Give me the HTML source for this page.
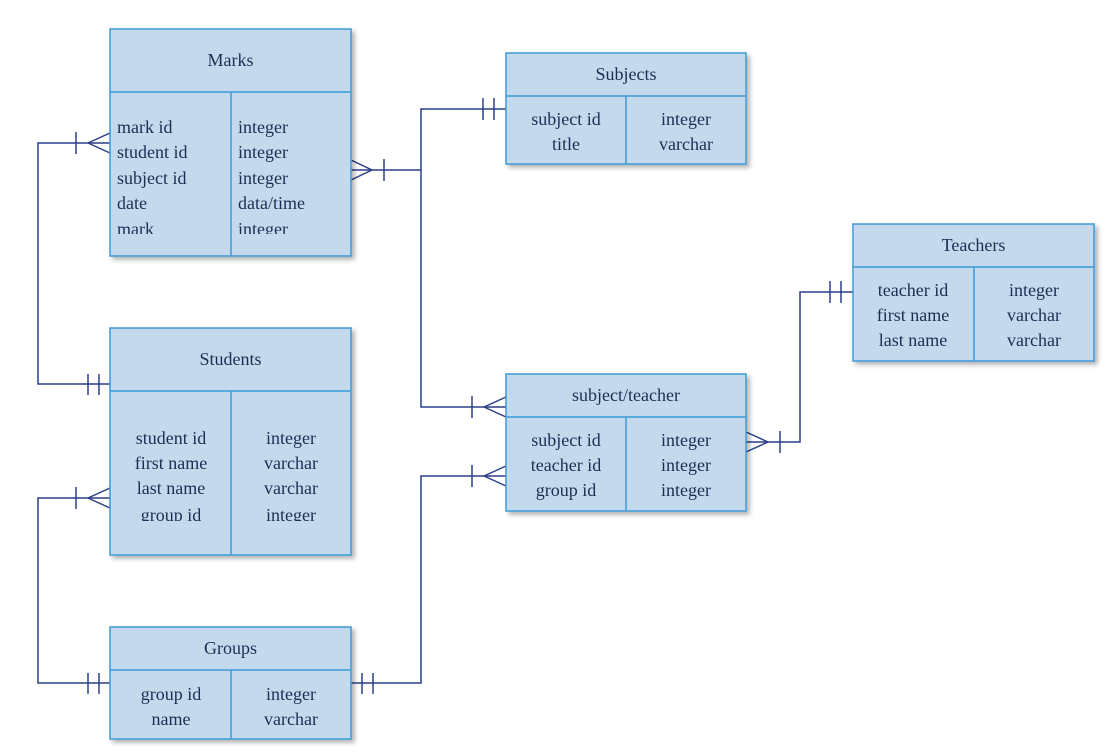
<!DOCTYPE html>
<html><head><meta charset="utf-8"><style>
html,body{margin:0;padding:0;background:#fff;}
svg{display:block;}
svg text{font-family:'Liberation Serif','Times New Roman','DejaVu Serif',serif;font-size:18px;fill:#1f2d55;}
.b{fill:#c5d9ec;stroke:#3d9ad6;stroke-width:1.5;}
.l{stroke:#3d9ad6;stroke-width:1.5;}
.c{fill:none;stroke:#2b3f88;stroke-width:1.5;}
</style></head><body>
<svg width="1118" height="755" viewBox="0 0 1118 755" font-family="Liberation Serif, Times New Roman, DejaVu Serif, serif">
<defs>
<filter id="s" x="-10%" y="-10%" width="130%" height="130%"><feDropShadow dx="3" dy="3" stdDeviation="2.5" flood-color="#000" flood-opacity="0.3"/></filter>
<clipPath id="cm"><rect x="110" y="92" width="241" height="142"/></clipPath>
<clipPath id="cs"><rect x="110" y="391" width="241" height="130"/></clipPath>
</defs>

<g class="c">
<polyline points="110,143 38,143 38,384 110,384"/>
<line x1="88" y1="143" x2="110" y2="133"/><line x1="88" y1="143" x2="110" y2="153"/>
<line x1="76" y1="132" x2="76" y2="154"/>
<line x1="88" y1="374" x2="88" y2="395"/><line x1="99" y1="374" x2="99" y2="395"/>
<polyline points="110,498 38,498 38,683 110,683"/>
<line x1="88" y1="498" x2="110" y2="488"/><line x1="88" y1="498" x2="110" y2="508"/>
<line x1="76" y1="487" x2="76" y2="509"/>
<line x1="88" y1="673" x2="88" y2="694"/><line x1="99" y1="673" x2="99" y2="694"/>
<polyline points="351,170 421,170"/>
<polyline points="506,109 421,109 421,407 506,407"/>
<line x1="351" y1="160" x2="372" y2="170"/><line x1="351" y1="180" x2="372" y2="170"/>
<line x1="384" y1="159" x2="384" y2="181"/>
<line x1="483" y1="98" x2="483" y2="120"/><line x1="494" y1="98" x2="494" y2="120"/>
<line x1="484" y1="407" x2="506" y2="397"/><line x1="484" y1="407" x2="506" y2="417"/>
<line x1="472" y1="396" x2="472" y2="418"/>
<polyline points="351,683 421,683 421,476 506,476"/>
<line x1="362" y1="673" x2="362" y2="694"/><line x1="373" y1="673" x2="373" y2="694"/>
<line x1="484" y1="476" x2="506" y2="466"/><line x1="484" y1="476" x2="506" y2="486"/>
<line x1="472" y1="465" x2="472" y2="487"/>
<polyline points="746,442 800,442 800,292 853,292"/>
<line x1="746" y1="432" x2="768" y2="442"/><line x1="746" y1="452" x2="768" y2="442"/>
<line x1="780" y1="431" x2="780" y2="453"/>
<line x1="830" y1="281" x2="830" y2="303"/><line x1="841" y1="281" x2="841" y2="303"/>
</g>

<rect class="b" x="110" y="29" width="241" height="227" filter="url(#s)"/>
<line class="l" x1="110" y1="92" x2="351" y2="92"/><line class="l" x1="231" y1="92" x2="231" y2="256"/>
<text x="230.5" y="66" text-anchor="middle">Marks</text>
<g clip-path="url(#cm)">
<text x="117" y="133">mark id</text><text x="117" y="158">student id</text><text x="117" y="184">subject id</text><text x="117" y="209">date</text><text x="117" y="235">mark</text>
<text x="238" y="133">integer</text><text x="238" y="158">integer</text><text x="238" y="184">integer</text><text x="238" y="209">data/time</text><text x="238" y="235">integer</text>
</g>

<rect class="b" x="506" y="53" width="240" height="111" filter="url(#s)"/>
<line class="l" x1="506" y1="96" x2="746" y2="96"/><line class="l" x1="626" y1="96" x2="626" y2="164"/>
<text x="626" y="80" text-anchor="middle">Subjects</text>
<text x="566" y="125" text-anchor="middle">subject id</text><text x="566" y="150" text-anchor="middle">title</text>
<text x="686" y="125" text-anchor="middle">integer</text><text x="686" y="150" text-anchor="middle">varchar</text>

<rect class="b" x="853" y="224" width="241" height="137" filter="url(#s)"/>
<line class="l" x1="853" y1="267" x2="1094" y2="267"/><line class="l" x1="974" y1="267" x2="974" y2="361"/>
<text x="973.5" y="251" text-anchor="middle">Teachers</text>
<text x="913" y="296" text-anchor="middle">teacher id</text><text x="913" y="321" text-anchor="middle">first name</text><text x="913" y="346" text-anchor="middle">last name</text>
<text x="1034" y="296" text-anchor="middle">integer</text><text x="1034" y="321" text-anchor="middle">varchar</text><text x="1034" y="346" text-anchor="middle">varchar</text>

<rect class="b" x="110" y="328" width="241" height="227" filter="url(#s)"/>
<line class="l" x1="110" y1="391" x2="351" y2="391"/><line class="l" x1="231" y1="391" x2="231" y2="555"/>
<text x="230.5" y="365" text-anchor="middle">Students</text>
<g clip-path="url(#cs)">
<text x="171" y="444" text-anchor="middle">student id</text><text x="171" y="469" text-anchor="middle">first name</text><text x="171" y="494" text-anchor="middle">last name</text><text x="171" y="521" text-anchor="middle">group id</text>
<text x="291" y="444" text-anchor="middle">integer</text><text x="291" y="469" text-anchor="middle">varchar</text><text x="291" y="494" text-anchor="middle">varchar</text><text x="291" y="521" text-anchor="middle">integer</text>
</g>

<rect class="b" x="506" y="374" width="240" height="137" filter="url(#s)"/>
<line class="l" x1="506" y1="417" x2="746" y2="417"/><line class="l" x1="626" y1="417" x2="626" y2="511"/>
<text x="626" y="401" text-anchor="middle">subject/teacher</text>
<text x="566" y="446" text-anchor="middle">subject id</text><text x="566" y="471" text-anchor="middle">teacher id</text><text x="566" y="496" text-anchor="middle">group id</text>
<text x="686" y="446" text-anchor="middle">integer</text><text x="686" y="471" text-anchor="middle">integer</text><text x="686" y="496" text-anchor="middle">integer</text>

<rect class="b" x="110" y="627" width="241" height="112" filter="url(#s)"/>
<line class="l" x1="110" y1="670" x2="351" y2="670"/><line class="l" x1="231" y1="670" x2="231" y2="739"/>
<text x="230.5" y="654" text-anchor="middle">Groups</text>
<text x="171" y="700" text-anchor="middle">group id</text><text x="171" y="725" text-anchor="middle">name</text>
<text x="291" y="700" text-anchor="middle">integer</text><text x="291" y="725" text-anchor="middle">varchar</text>
</svg>
</body></html>
